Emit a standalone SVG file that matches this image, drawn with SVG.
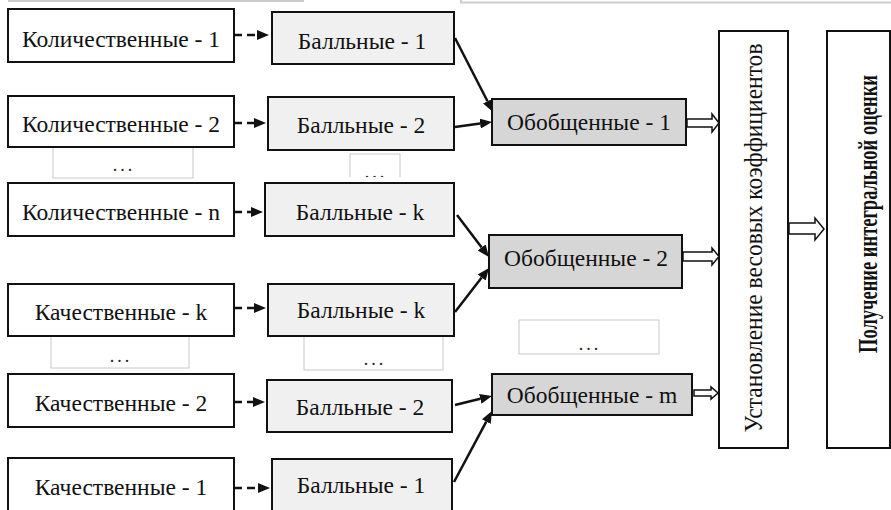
<svg xmlns="http://www.w3.org/2000/svg" width="891" height="510" viewBox="0 0 891 510">
  <style>
    .box { stroke: #111; stroke-width: 2; }
    .src { fill: #ffffff; }
    .ball { fill: #f0f0f0; }
    .gen { fill: #d6d6d6; }
    .stage { fill: #ffffff; }
    .gap { fill: #ffffff; stroke: #c8c8c8; stroke-width: 1; }
    .lbl { font-family: "Liberation Serif", "Times New Roman", serif; font-size: 23.5px; fill: #111; text-anchor: middle; }
    .vlbl { font-size: 25px; }
    .vbold { font-size: 19.5px; font-weight: bold; }
    .dots { font-family: "Liberation Serif", "Times New Roman", serif; font-size: 18px; fill: #222; text-anchor: middle; letter-spacing: 3px; }
    .dash { fill: none; stroke: #111; stroke-width: 2.5; stroke-dasharray: 8 5; marker-end: url(#ah); }
    .solid { fill: none; stroke: #111; stroke-width: 2.5; marker-end: url(#ah); }
    .block { fill: #ffffff; stroke: #111; stroke-width: 1.5; stroke-linejoin: miter; }
    .edge { fill: none; stroke: #cccccc; stroke-width: 2; }
  </style>
  <defs>
    <marker id="ah" markerWidth="12" markerHeight="10" refX="0" refY="5" orient="auto" markerUnits="userSpaceOnUse">
      <path d="M0,0 L12,5 L0,10 Z" fill="#111"/>
    </marker>
    <clipPath id="clipTopGap">
      <rect x="340" y="150" width="70" height="27"/>
    </clipPath>
  </defs>

  <!-- frame remnants along the top edge -->
  <path class="edge" d="M8,1 H304"/>
  <path class="edge" d="M461,0 V2.5 H891"/>

  <!-- ellipsis placeholders -->
  <g id="gap-left-1">
    <rect class="gap" x="53" y="140" width="140" height="38"/>
    <text class="dots" x="124" y="171">...</text>
  </g>
  <g id="gap-ball-1" clip-path="url(#clipTopGap)">
    <rect class="gap" x="350" y="154" width="50" height="35"/>
    <text class="dots" x="376" y="178">...</text>
  </g>
  <g id="gap-left-2">
    <rect class="gap" x="51" y="330" width="138" height="38"/>
    <text class="dots" x="121" y="362">...</text>
  </g>
  <g id="gap-ball-2">
    <rect class="gap" x="304" y="330" width="139" height="40"/>
    <text class="dots" x="375" y="365">...</text>
  </g>
  <g id="gap-gen">
    <rect class="gap" x="519" y="320" width="140" height="34"/>
    <text class="dots" x="590" y="350">...</text>
  </g>

  <!-- source indicators -->
  <g id="q1"><rect class="box src" x="8" y="9" width="226" height="53"/><text class="lbl" x="121" y="47">Количественные - 1</text></g>
  <g id="q2"><rect class="box src" x="8" y="96" width="226" height="51"/><text class="lbl" x="121" y="132">Количественные - 2</text></g>
  <g id="qn"><rect class="box src" x="8" y="183" width="226" height="53"/><text class="lbl" x="121" y="220">Количественные - n</text></g>
  <g id="ck"><rect class="box src" x="8" y="284" width="226" height="52"/><text class="lbl" x="121" y="320">Качественные - k</text></g>
  <g id="c2"><rect class="box src" x="8" y="374" width="226" height="53"/><text class="lbl" x="121" y="411">Качественные - 2</text></g>
  <g id="c1"><rect class="box src" x="8" y="458" width="226" height="60"/><text class="lbl" x="121" y="495">Качественные - 1</text></g>

  <!-- scored indicators -->
  <g id="b1"><rect class="box ball" x="272" y="12" width="182" height="52"/><text class="lbl" x="362" y="49">Балльные - 1</text></g>
  <g id="b2"><rect class="box ball" x="268" y="97" width="186" height="53"/><text class="lbl" x="361" y="133">Балльные - 2</text></g>
  <g id="bk1"><rect class="box ball" x="265" y="183" width="189" height="53"/><text class="lbl" x="360" y="220">Балльные - k</text></g>
  <g id="bk2"><rect class="box ball" x="268" y="284" width="186" height="52"/><text class="lbl" x="361" y="318">Балльные - k</text></g>
  <g id="b2b"><rect class="box ball" x="267" y="380" width="185" height="52"/><text class="lbl" x="360" y="415">Балльные - 2</text></g>
  <g id="b1b"><rect class="box ball" x="272" y="459" width="180" height="60"/><text class="lbl" x="361" y="493">Балльные - 1</text></g>

  <!-- aggregated indicators -->
  <g id="g1"><rect class="box gen" x="492" y="99" width="194" height="46"/><text class="lbl" x="589" y="130">Обобщенные - 1</text></g>
  <g id="g2"><rect class="box gen" x="489" y="235" width="193" height="53"/><text class="lbl" x="586" y="266">Обобщенные - 2</text></g>
  <g id="gm"><rect class="box gen" x="492" y="374" width="200" height="41"/><text class="lbl" x="592" y="403">Обобщенные - m</text></g>

  <!-- weighting stage -->
  <g id="weights">
    <rect class="box stage" x="719" y="31" width="69" height="417"/>
    <text class="lbl vlbl" transform="translate(762,238) rotate(-90)" textLength="389" lengthAdjust="spacingAndGlyphs">Установление весовых коэффициентов</text>
  </g>

  <!-- final stage: tall condensed bold caption -->
  <g id="result">
    <rect class="box stage" x="827" y="31" width="63" height="417"/>
    <text class="lbl vbold" transform="translate(877,214) rotate(-90) scale(1,1.35)" textLength="278" lengthAdjust="spacingAndGlyphs">Получение интегральной оценки</text>
  </g>

  <!-- connectors -->
  <g id="connectors">
    <path class="dash" d="M234,35 H257"/>
    <path class="dash" d="M234,123 H254"/>
    <path class="dash" d="M234,212 H251"/>
    <path class="dash" d="M234,308 H254"/>
    <path class="dash" d="M234,402 H253"/>
    <path class="dash" d="M234,488 H258"/>

    <path class="solid" d="M455,38 L487.5,101.3"/>
    <path class="solid" d="M455,127 L480.1,123.6"/>
    <path class="solid" d="M457,215 L481.7,247.5"/>
    <path class="solid" d="M455,312 L481.7,277.5"/>
    <path class="solid" d="M455,405 L480.3,398.8"/>
    <path class="solid" d="M454,482 L486.3,421.6"/>

    <path class="block" d="M687,119 H712 V114 L719,123 L712,132 V127 H687 Z"/>
    <path class="block" d="M683,252 H712 V248 L719,256.5 L712,265 V261 H683 Z"/>
    <path class="block" d="M694,390 H711 V387 L718,393 L711,399 V396 H694 Z"/>
    <path class="block" d="M789,223 H815 V218 L824,229 L815,240 V234 H789 Z"/>
  </g>
</svg>
